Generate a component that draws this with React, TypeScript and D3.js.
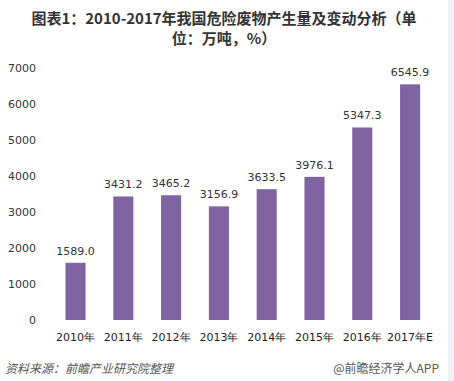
import React from "react";
import * as d3 from "d3";

const categories = ["2010年", "2011年", "2012年", "2013年", "2014年", "2015年", "2016年", "2017年E"];
const values = [1589.0, 3431.2, 3465.2, 3156.9, 3633.5, 3976.1, 5347.3, 6545.9];
const yTicks = [0, 1000, 2000, 3000, 4000, 5000, 6000, 7000];
const titleLines = ["图表1：2010-2017年我国危险废物产生量及变动分析（单", "位：万吨，%）"];
const sourceText = "资料来源：前瞻产业研究院整理";
const brandText = "@前瞻经济学人APP";

const W = 454;
const H = 381;

export default function App() {
  const x = d3.scaleBand<string>().domain(categories).range([51.6, 434]).paddingInner(0.58).paddingOuter(0.29);
  const y = d3.scaleLinear().domain([0, 7000]).range([320, 68]);
  const num = "'DejaVu Sans', Verdana, sans-serif";
  const cjk = "'Noto Sans CJK SC', 'DejaVu Sans', sans-serif";
  return (
    <div style={{ position: "absolute", left: 0, top: 0 }}>
      <svg width={W} height={H} style={{ display: "block", background: "#fff" }}>
        <rect x={448} y={0} width={6} height={H} fill="#eef1f6" />
        {titleLines.map((t, i) => (
          <text key={i} x={224} y={24 + i * 20} textAnchor="middle" fontFamily={cjk} fontWeight="bold" fontSize={15} fill="#333">
            {t}
          </text>
        ))}
        {yTicks.map((t) => (
          <text key={t} x={36} y={y(t)} dy="0.35em" textAnchor="end" fontFamily={num} fontSize={11} fill="#333">
            {t}
          </text>
        ))}
        {categories.map((c, i) => (
          <g key={c}>
            <rect x={x(c)!} y={y(values[i])} width={x.bandwidth()} height={y(0) - y(values[i])} fill="#8064A2" />
            <text x={x(c)! + x.bandwidth() / 2} y={y(values[i]) - 8} textAnchor="middle" fontFamily={num} fontSize={11} fill="#333">
              {values[i].toFixed(1)}
            </text>
            <text x={x(c)! + x.bandwidth() / 2} y={341} textAnchor="middle" fontFamily={num} fontSize={11} fill="#222">
              {c}
            </text>
          </g>
        ))}
        <text x={5} y={373} fontFamily={cjk} fontStyle="italic" fontSize={12} fill="#555">
          {sourceText}
        </text>
        <text x={439} y={373} textAnchor="end" fontFamily={cjk} fontSize={12} fill="#555">
          {brandText}
        </text>
      </svg>
    </div>
  );
}
